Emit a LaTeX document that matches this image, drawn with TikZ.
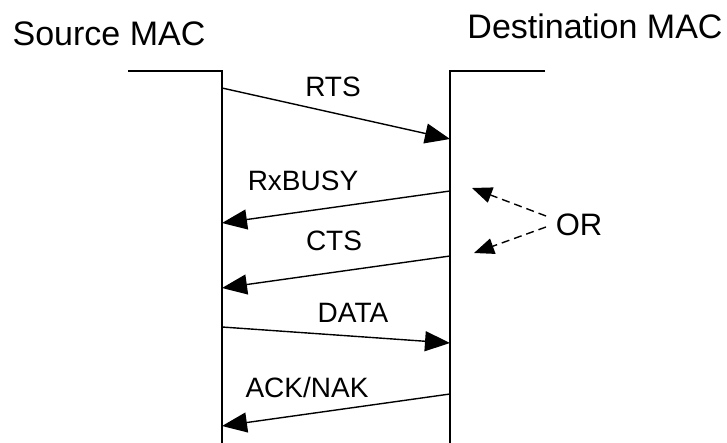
\documentclass[tikz,border=0pt]{standalone}
\usepackage{fontspec}
\setmainfont{Liberation Sans}
\usetikzlibrary{arrows.meta}
\begin{document}
\begin{tikzpicture}[x=1pt,y=-1pt,
  lifeline/.style={line width=1.4pt},
  msg/.style={line width=1.4pt,-{Triangle[length=25pt,width=20pt]}},
  ormsg/.style={line width=1.4pt,dash pattern=on 8pt off 5pt,-{Triangle[length=20pt,width=16pt]}},
  lbl/.style={font=\fontsize{28}{30}\selectfont,anchor=base,inner sep=0pt},
  head/.style={font=\fontsize{34}{36}\selectfont,anchor=base,inner sep=0pt}]
\useasboundingbox (0,0) rectangle (727,443);
% headers
\node[head] (src) at (109,46) {Source MAC};
\node[head] (dst) at (595,39) {Destination MAC};
% lifelines
\coordinate (s0) at (128,71);
\coordinate (s1) at (222,71);
\coordinate (s2) at (222,443);
\coordinate (d0) at (545,71);
\coordinate (d1) at (450,71);
\coordinate (d2) at (450,443);
\draw[lifeline] (s0) -- (s1) -- (s2);
\draw[lifeline] (d0) -- (d1) -- (d2);
% message endpoints
\coordinate (rtsA) at (222,88);  \coordinate (rtsB) at (450,139);
\coordinate (busyA) at (450,191); \coordinate (busyB) at (222,223);
\coordinate (ctsA) at (450,256);  \coordinate (ctsB) at (222,288);
\coordinate (dataA) at (222,327); \coordinate (dataB) at (450,343);
\coordinate (ackA) at (450,394);  \coordinate (ackB) at (222,426);
\draw[msg] (rtsA) -- (rtsB);
\draw[msg] (busyA) -- (busyB);
\draw[msg] (ctsA) -- (ctsB);
\draw[msg] (dataA) -- (dataB);
\draw[msg] (ackA) -- (ackB);
% labels
\node[lbl] (rts) at (333,97) {RTS};
\node[lbl] (busy) at (303,191) {RxBUSY};
\node[lbl] (cts) at (334,251) {CTS};
\node[lbl] (data) at (353,322) {DATA};
\node[lbl] (ack) at (307,397) {ACK/NAK};
% OR
\node[font=\fontsize{31}{33}\selectfont,anchor=base,inner sep=0pt] (or) at (579,236) {OR};
\coordinate (orA) at (546,216); \coordinate (orTip1) at (472,188);
\coordinate (orB) at (546,227); \coordinate (orTip2) at (474,253);
\draw[ormsg] (orA) -- (orTip1);
\draw[ormsg] (orB) -- (orTip2);
\end{tikzpicture}
\end{document}
